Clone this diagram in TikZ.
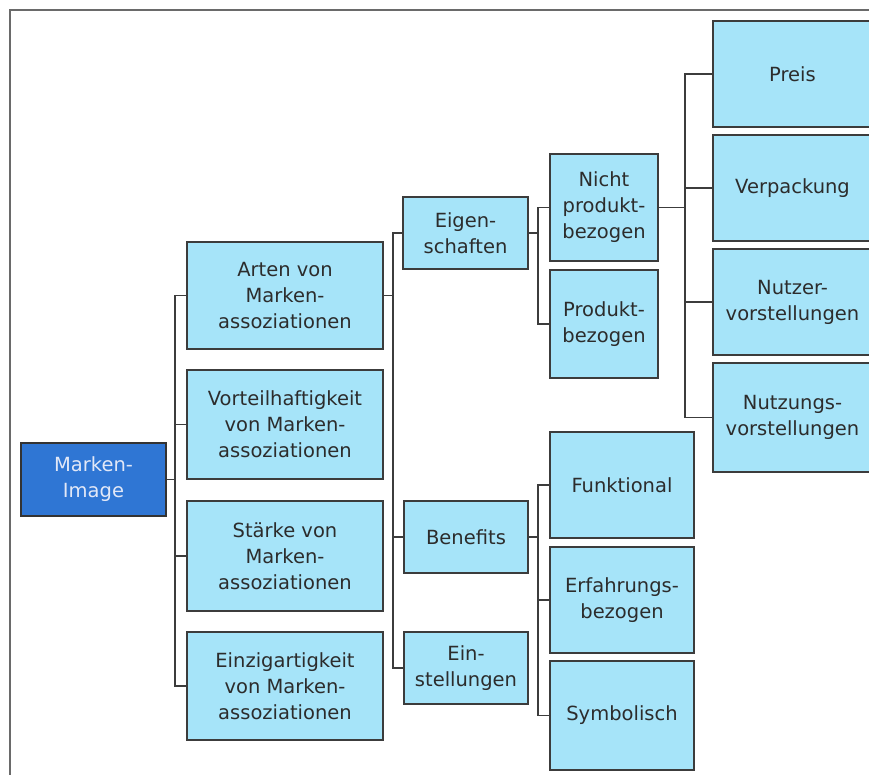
\documentclass[tikz,border=0pt]{standalone}
\usepackage{fontspec}
\setmainfont{DejaVu Sans}
\definecolor{boxfill}{HTML}{A6E4F9}
\definecolor{boxdraw}{HTML}{3C3C3C}
\definecolor{rootfill}{HTML}{2F76D4}
\definecolor{roottext}{HTML}{E2E8F7}
\definecolor{txt}{HTML}{2C2C2C}
\definecolor{frame}{HTML}{6A6A6A}
\tikzset{
  box/.style={draw=boxdraw, fill=boxfill, line width=1.6pt, text=txt, align=center,
    inner sep=0pt, font=\fontsize{19.5}{26}\selectfont},
  rootbox/.style={box, fill=rootfill, draw=black!80, text=roottext},
  conn/.style={draw=boxdraw, line width=1.5pt},
}
\begin{document}
\begin{tikzpicture}[x=1pt,y=-1pt]
\useasboundingbox (0,0) rectangle (869,775);
\fill[white] (0,0) rectangle (869,775);
% frame
\coordinate (fA) at (10,780);
\coordinate (fB) at (10,10);
\coordinate (fC) at (875,10);
\draw[frame, line width=2pt] (fA) -- (fB) -- (fC);

% root
\node[rootbox, minimum width=145pt, minimum height=73pt] (mi) at (93.5,479.5) {Marken-\\Image};
% level 1
\node[box, minimum width=196pt, minimum height=107pt] (a1) at (285,295.5) {Arten von\\Marken-\\assoziationen};
\node[box, minimum width=196pt, minimum height=109pt] (a2) at (285,424.5) {Vorteilhaftigkeit\\von Marken-\\assoziationen};
\node[box, minimum width=196pt, minimum height=110pt] (a3) at (285,556) {Stärke von\\Marken-\\assoziationen};
\node[box, minimum width=196pt, minimum height=108pt] (a4) at (285,686) {Einzigartigkeit\\von Marken-\\assoziationen};
% level 2
\node[box, minimum width=125pt, minimum height=72pt] (b1) at (465.5,233) {Eigen-\\schaften};
\node[box, minimum width=124pt, minimum height=72pt] (b2) at (466,537) {Benefits};
\node[box, minimum width=124pt, minimum height=72pt] (b3) at (466,668) {Ein-\\stellungen};
% level 3
\node[box, minimum width=108pt, minimum height=107pt] (c1) at (604,207.5) {Nicht\\produkt-\\bezogen};
\node[box, minimum width=108pt, minimum height=108pt] (c2) at (604,324) {Produkt-\\bezogen};
\node[box, minimum width=144pt, minimum height=106pt] (d1) at (622,485) {Funktional};
\node[box, minimum width=144pt, minimum height=106pt] (d2) at (622,600) {Erfahrungs-\\bezogen};
\node[box, minimum width=144pt, minimum height=109pt] (d3) at (622,715.5) {Symbolisch};
% level 4
\node[box, minimum width=159pt, minimum height=106pt] (e1) at (792.5,74) {Preis};
\node[box, minimum width=159pt, minimum height=106pt] (e2) at (792.5,188) {Verpackung};
\node[box, minimum width=159pt, minimum height=106pt] (e3) at (792.5,302) {Nutzer-\\vorstellungen};
\node[box, minimum width=159pt, minimum height=109pt] (e4) at (792.5,417.5) {Nutzungs-\\vorstellungen};

% trunks
\coordinate (t1) at (175,0);
\coordinate (t2) at (393,0);
\coordinate (t3) at (538,0);
\coordinate (t5) at (685,0);

% connectors
\draw[conn] (mi.east) -- (mi.east -| t1);
\foreach \c in {a1,a2,a3,a4} \draw[conn] (mi.east -| t1) |- (\c.west);
\draw[conn] (a1.east) -- (a1.east -| t2);
\foreach \c in {b1,b2,b3} \draw[conn] (a1.east -| t2) |- (\c.west);
\draw[conn] (b1.east) -- (b1.east -| t3);
\foreach \c in {c1,c2} \draw[conn] (b1.east -| t3) |- (\c.west);
\draw[conn] (b2.east) -- (b2.east -| t3);
\foreach \c in {d1,d2,d3} \draw[conn] (b2.east -| t3) |- (\c.west);
\draw[conn] (c1.east) -- (c1.east -| t5);
\foreach \c in {e1,e2,e3,e4} \draw[conn] (c1.east -| t5) |- (\c.west);
\end{tikzpicture}
\end{document}
